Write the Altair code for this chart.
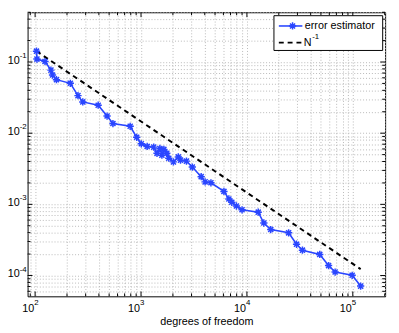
import altair as alt
import pandas as pd

# ---- data ----
dof = [103, 104, 124, 141, 146, 159, 215, 254, 282, 394, 478, 543, 790, 910,
       1006, 1143, 1318, 1416, 1507, 1574, 1644, 1751, 1828, 2023, 2249, 2361,
       2686, 3050, 3700, 4029, 4573, 6067, 6756, 7197, 7957, 8995, 12790,
       14450, 16790, 24770, 29420, 33440, 48730, 59040, 68080, 98620, 118600]
err = [0.142, 0.110, 0.1016, 0.0769, 0.0656, 0.0565, 0.0502, 0.0337, 0.0275,
       0.0247, 0.0174, 0.01365, 0.0125, 0.00875, 0.0071, 0.00652, 0.00637,
       0.00521, 0.0061, 0.0049, 0.00591, 0.00521, 0.00445, 0.00395, 0.00464,
       0.00418, 0.00405, 0.00334, 0.00245, 0.00207, 0.00201, 0.00152, 0.00119,
       0.00107, 0.000948, 0.000839, 0.000776, 0.000547, 0.000443, 0.000398,
       0.000275, 0.000227, 0.000198, 0.000138, 0.000112, 0.0001007, 0.000071]
ref_x = [103, 118600]
ref_y = [0.142, 0.000123]

x_major = [100, 1000, 10000, 100000]
x_major_exp = ["2", "3", "4", "5"]
x_minor = [90] + [m * 10 ** k for k in (2, 3, 4) for m in range(2, 10)] + [200000]
y_major = [0.0001, 0.001, 0.01, 0.1]
y_major_exp = ["-4", "-3", "-2", "-1"]
y_minor = [6e-5, 7e-5, 8e-5, 9e-5] + [m * 10.0 ** k for k in (-4, -3, -2) for m in range(2, 10)] + [0.2, 0.3, 0.4, 0.5]

legend_labels = ["error estimator", "N"]
legend_exp = "-1"
x_title = "degrees of freedom"

W, H = 365, 290
FONT = "Liberation Sans"
BLUE = "#2a46ff"

xscale = alt.Scale(type="log", domain=[84.9, 201900], nice=False)
yscale = alt.Scale(type="log", domain=[5.1e-5, 0.5], nice=False)

x_all = sorted(x_major + x_minor)
y_all = sorted(y_major + y_minor)

grid_kw = dict(grid=True, gridColor="#b8b8b8", gridDash=[1, 2], gridWidth=1, gridOpacity=1,
               ticks=False, domain=False, labels=False)

xaxis = alt.Axis(values=x_all, title=x_title, titleFont=FONT, titleFontSize=11,
                 titleFontWeight="normal", titleColor="black", titlePadding=20, **grid_kw)
yaxis = alt.Axis(values=y_all, title=None, **grid_kw)

X = alt.X("dof:Q", scale=xscale, axis=xaxis)
Y = alt.Y("err:Q", scale=yscale, axis=yaxis)

df = pd.DataFrame({"dof": dof, "err": err})
df_ref = pd.DataFrame({"dof": ref_x, "err": ref_y})


def xticks(vals, length):
    d = pd.DataFrame({"dof": vals})
    bot = alt.Chart(d).mark_rule(color="black", strokeWidth=1).encode(
        x=X, y=alt.value(H), y2=alt.value(H - length))
    top = alt.Chart(d).mark_rule(color="black", strokeWidth=1).encode(
        x=X, y=alt.value(0), y2=alt.value(length))
    return [bot, top]


def yticks(vals, length):
    d = pd.DataFrame({"err": vals})
    left = alt.Chart(d).mark_rule(color="black", strokeWidth=1).encode(
        y=Y, x=alt.value(0), x2=alt.value(length))
    right = alt.Chart(d).mark_rule(color="black", strokeWidth=1).encode(
        y=Y, x=alt.value(W), x2=alt.value(W - length))
    return [left, right]


# tick labels: base "10" plus raised exponent
xl = pd.DataFrame({"dof": x_major, "base": ["10"] * 4, "exp": x_major_exp})
yl = pd.DataFrame({"err": y_major, "base": ["10"] * 4, "exp": y_major_exp})
x_base = alt.Chart(xl).mark_text(align="right", baseline="middle", font=FONT, fontSize=11,
                                 color="black", dx=-1).encode(x=X, y=alt.value(H + 12.7), text="base:N")
x_exp = alt.Chart(xl).mark_text(align="left", baseline="middle", font=FONT, fontSize=8,
                                color="black", dx=-1).encode(x=X, y=alt.value(H + 7), text="exp:N")
y_base = alt.Chart(yl).mark_text(align="right", baseline="middle", font=FONT, fontSize=11,
                                 color="black", dy=-1).encode(y=Y, x=alt.value(-8), text="base:N")
y_exp = alt.Chart(yl).mark_text(align="left", baseline="middle", font=FONT, fontSize=8,
                                color="black", dy=-6).encode(y=Y, x=alt.value(-8), text="exp:N")

STAR = "M0,-1L0,1M-1,0L1,0M-0.7,-0.7L0.7,0.7M-0.7,0.7L0.7,-0.7"

ref_line = alt.Chart(df_ref).mark_line(color="black", strokeWidth=2, strokeDash=[5, 4]).encode(x=X, y=Y)
err_line = alt.Chart(df).mark_line(color=BLUE, strokeWidth=1.6).encode(x=X, y=Y)
err_pts = alt.Chart(df).mark_point(shape=STAR, filled=False, color=BLUE, size=55, strokeWidth=1.5,
                                   opacity=1).encode(x=X, y=Y)

# legend
one = pd.DataFrame({"label": [legend_labels[0]]})
leg_box = alt.Chart(one).mark_rect(fill="white", stroke="black", strokeWidth=1).encode(
    x=alt.value(251.5), x2=alt.value(362.5), y=alt.value(3.5), y2=alt.value(39))
leg_l1 = alt.Chart(one).mark_rule(color=BLUE, strokeWidth=1.6).encode(
    x=alt.value(256.5), x2=alt.value(280.5), y=alt.value(14))
leg_p1 = alt.Chart(one).mark_point(shape=STAR, filled=False, color=BLUE, size=55, strokeWidth=1.5,
                                   opacity=1).encode(x=alt.value(270.5), y=alt.value(14))
leg_l2 = alt.Chart(one).mark_rule(color="black", strokeWidth=2, strokeDash=[5, 4]).encode(
    x=alt.value(256.5), x2=alt.value(281), y=alt.value(31))
leg_t1 = alt.Chart(one).mark_text(
    align="left", baseline="middle", font=FONT, fontSize=11, color="black").encode(
    x=alt.value(283), y=alt.value(14.5), text="label:N")
leg_t2 = alt.Chart(pd.DataFrame({"label": [legend_labels[1]]})).mark_text(
    align="left", baseline="middle", font=FONT, fontSize=11, color="black").encode(
    x=alt.value(282), y=alt.value(31.5), text="label:N")
leg_t3 = alt.Chart(pd.DataFrame({"label": [legend_exp]})).mark_text(
    align="left", baseline="middle", font=FONT, fontSize=8, color="black").encode(
    x=alt.value(290.5), y=alt.value(25.5), text="label:N")

layers = xticks(x_major, 5) + xticks(x_minor, 3) + yticks(y_major, 5) + yticks(y_minor, 3) + [
    x_base, x_exp, y_base, y_exp,
    ref_line, err_line, err_pts, leg_box, leg_l1, leg_p1, leg_l2, leg_t1, leg_t2, leg_t3]

chart = alt.layer(*layers).properties(
    width=W, height=H,
    autosize=alt.AutoSizeParams(type="none"),
    padding={"left": 20, "top": 1, "right": 6, "bottom": 30},
    background="white",
).configure_view(stroke="black", strokeWidth=1)

chart.save("out.html", embed_options={"renderer": "svg", "actions": False})
